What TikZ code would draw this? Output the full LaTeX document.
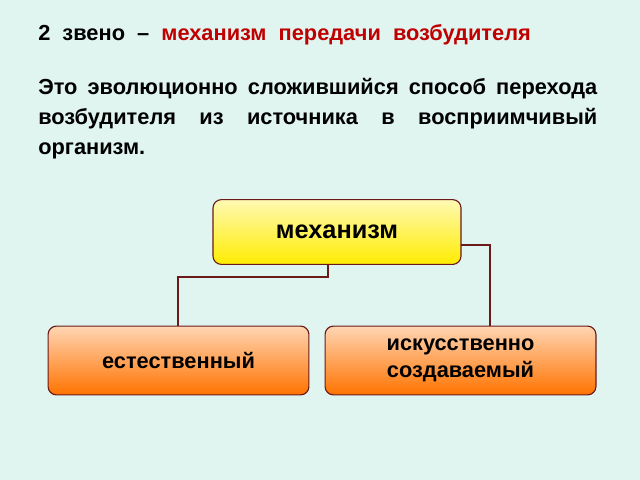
\documentclass[tikz,border=0pt]{standalone}
\usepackage{fontspec}
\setmainfont{Liberation Sans}
\usetikzlibrary{positioning}
\definecolor{bgmint}{HTML}{E0F5F0}
\definecolor{linkbrown}{HTML}{6B1A1A}
\definecolor{titlered}{HTML}{C00000}
\tikzset{
	mechbox/.style={draw=linkbrown, line width=0.8pt, rounded corners=6pt, top color=#1!30!white, bottom color=#1, font=\bfseries, align=center, inner sep=0pt},
	link/.style={draw=linkbrown, line width=1.6pt}
}
\begin{document}
\begin{tikzpicture}[x=0.025cm,y=-0.025cm]
	\fill [bgmint] (0,0) rectangle (640,480);
	\useasboundingbox (0,0) rectangle (640,480);
	\node [anchor=west, font=\bfseries\fontsize{15.5}{18}\selectfont, inner sep=0pt] (title) at (38,35) {2\ \ звено \ – \ \textcolor{titlered}{механизм\ \ передачи\ \ возбудителя}};
	\node [anchor=north west, text width=13.97cm, align=justify, font=\bfseries\fontsize{15.5}{21.5}\selectfont, inner sep=0pt] (text) at (38,78) {Это эволюционно сложившийся способ перехода возбудителя из источника в восприимчивый организм.};
	\node [mechbox={yellow!85!orange}, minimum width=6.2cm, minimum height=1.62cm, font=\bfseries\fontsize{18}{21}\selectfont] (mech) at (337,232) {механизм};
	\node [mechbox={orange!90!red}, minimum width=6.52cm, minimum height=1.72cm, font=\bfseries\fontsize{15.5}{19}\selectfont] (natural) at (178.5,360.5) {естественный};
	\node [mechbox={orange!90!red}, minimum width=6.77cm, minimum height=1.72cm, font=\bfseries\fontsize{15.5}{19}\selectfont] (artificial) at (460.5,360.5) {искусственно\\создаваемый};
	\coordinate (m1) at (328,265);
	\coordinate (m2) at (461,245);
	\draw [link] (m1) -- (328,277) -- (178,277) -- (natural.north -| 178,0);
	\draw [link] (m2) -- (490,245) -- (artificial.north -| 490,0);
\end{tikzpicture}
\end{document}
